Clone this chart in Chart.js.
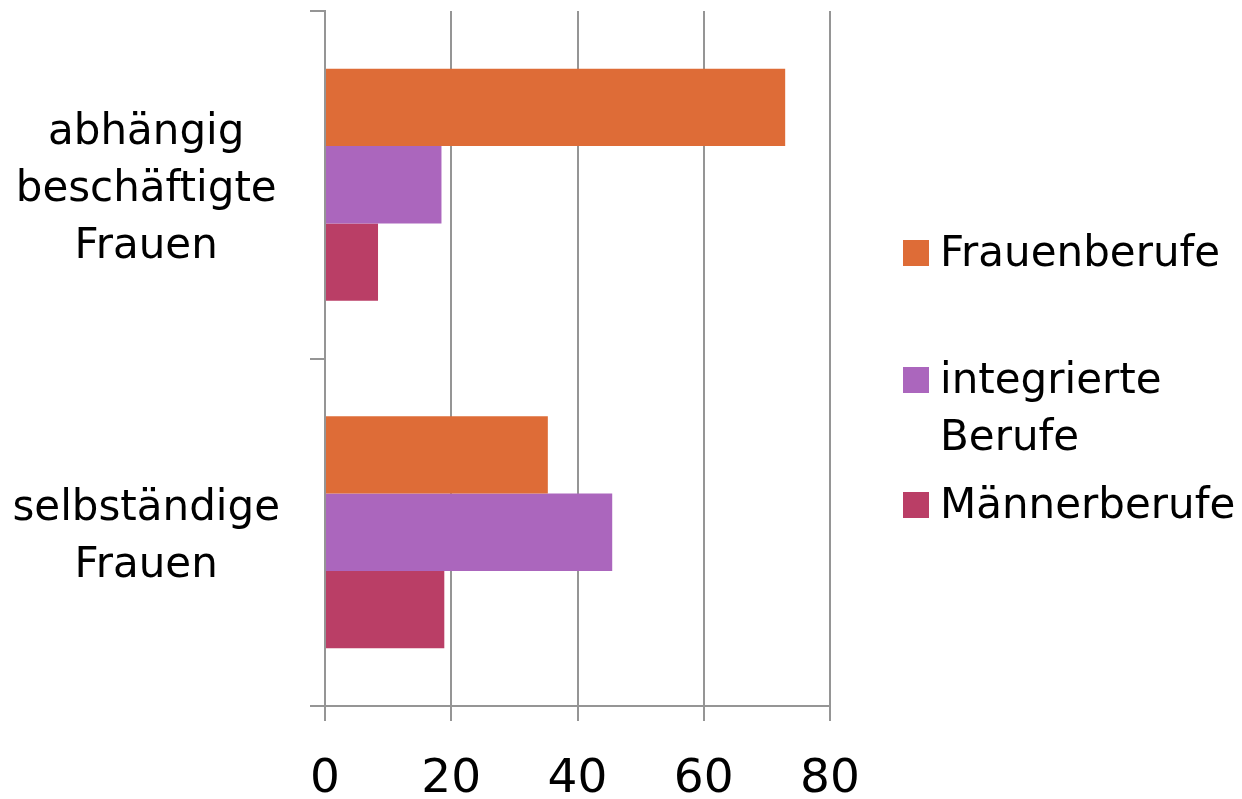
<!DOCTYPE html>
<html>
<head>
<meta charset="utf-8">
<script src="https://cdn.jsdelivr.net/npm/chart.js@4/dist/chart.umd.min.js"></script>
<style>
  html, body { margin: 0; padding: 0; background: #fff; }
  #wrap { width: 1242px; height: 799px; }
</style>
</head>
<body>
<div id="wrap"><canvas id="chart"></canvas></div>
<script>
const categories = [["abhängig", "beschäftigte", "Frauen"], ["selbständige", "Frauen"]];
const seriesNames = ["Frauenberufe", ["integrierte", "Berufe"], "Männerberufe"];
const frauenberufe = [72.9, 35.3];
const integrierte = [18.45, 45.5];
const maennerberufe = [8.4, 18.9];
const xTicks = [0, 20, 40, 60, 80];
const colors = ["#DE6C37", "#AB66BD", "#BA3E66"];

const FONT = "'DejaVu Sans', sans-serif";
const gridGray = "#959595";

// legend drawn by hand so entries sit where the original has them
const sideLegend = {
  id: "sideLegend",
  afterDraw(chart) {
    const ctx = chart.ctx;
    const rows = [253, 380, 505];
    ctx.save();
    ctx.font = "42px " + FONT;
    ctx.textBaseline = "middle";
    chart.data.datasets.forEach((ds, i) => {
      const y = rows[i];
      ctx.fillStyle = ds.backgroundColor;
      ctx.fillRect(903, y - 13, 26, 26);
      ctx.fillStyle = "#000";
      const lines = Array.isArray(seriesNames[i]) ? seriesNames[i] : [seriesNames[i]];
      lines.forEach((t, j) => ctx.fillText(t, 940, y + 2 + j * 57));
    });
    ctx.restore();
  }
};

new Chart(document.getElementById("chart"), {
  type: "bar",
  data: {
    labels: categories,
    datasets: [
      { label: "Frauenberufe", data: frauenberufe, backgroundColor: colors[0] },
      { label: "integrierte Berufe", data: integrierte, backgroundColor: colors[1] },
      { label: "Männerberufe", data: maennerberufe, backgroundColor: colors[2] },
    ],
  },
  options: {
    indexAxis: "y",
    responsive: true,
    maintainAspectRatio: false,
    animation: false,
    layout: { padding: { top: 11, right: 412, left: 0, bottom: 0 } },
    datasets: { bar: { categoryPercentage: 0.667, barPercentage: 1.0 } },
    plugins: { legend: { display: false }, tooltip: { enabled: false } },
    scales: {
      x: {
        min: 0,
        max: 80,
        afterBuildTicks: (s) => { s.ticks = xTicks.map((v) => ({ value: v })); },
        afterFit: (s) => { s.height = 93; s.paddingLeft = 0; s.paddingRight = 0; },
        grid: { color: gridGray, lineWidth: 2, tickLength: 15, drawOnChartArea: true },
        border: { color: gridGray, width: 2 },
        ticks: { color: "#000", font: { size: 47, family: FONT }, padding: 31 },
      },
      y: {
        afterFit: (s) => { s.width = 325; s.paddingTop = 0; s.paddingBottom = 0; },
        grid: { drawOnChartArea: false, color: gridGray, lineWidth: 2, tickLength: 15 },
        border: { color: gridGray, width: 2 },
        ticks: {
          color: "#000",
          crossAlign: "center",
          padding: 30,
          labelOffset: 5,
          font: { size: 42, family: FONT, lineHeight: 1.36 },
        },
      },
    },
  },
  plugins: [sideLegend],
});
</script>
</body>
</html>
